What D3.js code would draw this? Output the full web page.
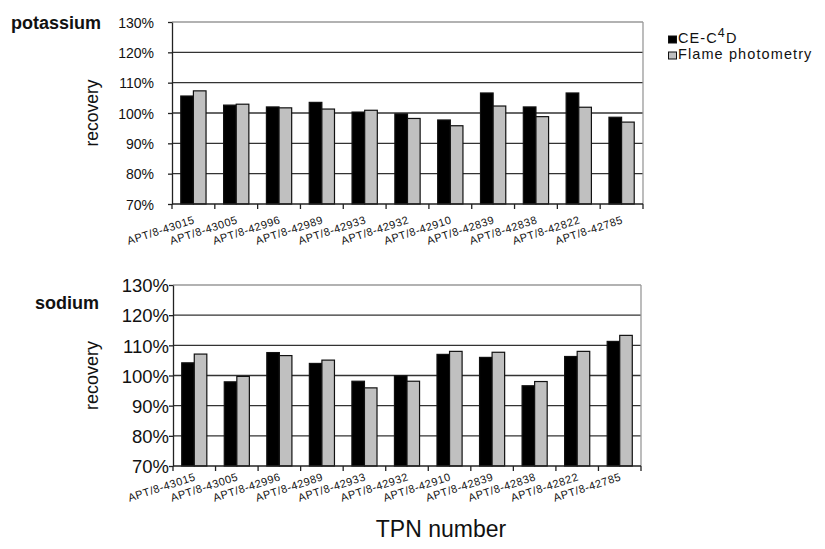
<!DOCTYPE html>
<html>
<head>
<meta charset="utf-8">
<script src="https://cdn.jsdelivr.net/npm/d3@7"></script>
<style>
  html, body { margin: 0; padding: 0; background: #fff; }
  svg { display: block; font-family: Arial, "Liberation Sans", sans-serif; }
</style>
</head>
<body>
<svg id="chart" width="825" height="549"></svg>
<script>
// ---- data ----
const categories = ["APT/8-43015","APT/8-43005","APT/8-42996","APT/8-42989","APT/8-42933","APT/8-42932","APT/8-42910","APT/8-42839","APT/8-42838","APT/8-42822","APT/8-42785"];
const seriesNames = ["CE-C4D", "Flame photometry"];
const potassiumCE    = [105.6, 102.6, 102.0, 103.5, 100.3, 99.7, 97.7, 106.6, 102.0, 106.6, 98.6];
const potassiumFlame = [107.3, 102.9, 101.7, 101.3, 100.9, 98.2, 95.8, 102.3, 98.8, 101.9, 97.0];
const sodiumCE       = [104.2, 97.9, 107.6, 104.0, 98.1, 99.9, 107.0, 106.0, 96.6, 106.3, 111.3];
const sodiumFlame    = [107.1, 99.7, 106.6, 105.1, 95.9, 98.1, 108.0, 107.7, 98.0, 108.0, 113.3];
const yTicks = [70, 80, 90, 100, 110, 120, 130];
const yDomain = [70, 130];
const panelTitles = ["potassium", "sodium"];
const yAxisTitle = "recovery";
const xAxisTitle = "TPN number";

const colors = ["#000000", "#c0c0c0"];
const svg = d3.select("#chart");

function drawPanel(cfg) {
  const { left, right, top, bottom, ce, flame, title, tickFont, titleY, recX, recFont, labelOffset } = cfg;
  const x0 = d3.scaleBand().domain(categories).range([left, right]).paddingInner(0.41).paddingOuter(0.205);
  const x1 = d3.scaleBand().domain(seriesNames).range([0, x0.bandwidth()]);
  const y = d3.scaleLinear().domain(yDomain).range([bottom, top]);
  const g = svg.append("g");

  // gridlines
  g.selectAll("line.grid").data(yTicks.filter(t => t > 70 && t < 130)).join("line")
    .attr("x1", left).attr("x2", right)
    .attr("y1", d => y(d)).attr("y2", d => y(d))
    .attr("stroke", "#333").attr("stroke-width", 1.3);
  // frame top and right
  g.append("line").attr("x1", left).attr("x2", right).attr("y1", y(130)).attr("y2", y(130))
    .attr("stroke", "#999").attr("stroke-width", 1.3);
  g.append("line").attr("x1", right).attr("x2", right).attr("y1", y(130)).attr("y2", y(70))
    .attr("stroke", "#999").attr("stroke-width", 1.3);

  // bars
  const data = categories.map((c, i) => ({ c, vals: [ce[i], flame[i]] }));
  const grp = g.selectAll("g.cat").data(data).join("g").attr("transform", d => `translate(${x0(d.c)},0)`);
  grp.selectAll("rect").data(d => d.vals.map((v, k) => ({ v, k }))).join("rect")
    .attr("x", d => x1(seriesNames[d.k]))
    .attr("width", x1.bandwidth())
    .attr("y", d => y(d.v))
    .attr("height", d => y(70) - y(d.v))
    .attr("fill", d => colors[d.k])
    .attr("stroke", "#111").attr("stroke-width", 1.2);

  // y axis
  const yAxis = d3.axisLeft(y).tickValues(yTicks).tickSize(4).tickSizeOuter(0).tickFormat(d => d + "%");
  const ya = g.append("g").attr("transform", `translate(${left},0)`).call(yAxis);
  ya.select(".domain").attr("stroke", "#222").attr("stroke-width", 1.3);
  ya.selectAll(".tick line").attr("stroke", "#222").attr("stroke-width", 1.3);
  ya.selectAll(".tick text").attr("font-size", tickFont).attr("fill", "#111")
    .attr("font-family", "Arial, 'Liberation Sans', sans-serif").attr("x", -cfg.tickPad).attr("dy", "0.36em");

  // x axis: domain + ticks at category boundaries
  g.append("line").attr("x1", left).attr("x2", right).attr("y1", bottom).attr("y2", bottom)
    .attr("stroke", "#222").attr("stroke-width", 1.3);
  const step = x0.step();
  const bounds = d3.range(categories.length + 1).map(i => left + i * step);
  g.selectAll("line.xt").data(bounds).join("line")
    .attr("x1", d => d).attr("x2", d => d).attr("y1", bottom).attr("y2", bottom + 5)
    .attr("stroke", "#222").attr("stroke-width", 1.3);
  g.selectAll("text.xl").data(categories).join("text")
    .attr("transform", d => `translate(${x0(d) + x0.bandwidth() / 2 + 2},${bottom + labelOffset}) rotate(-18)`)
    .attr("text-anchor", "end")
    .attr("font-size", 11).attr("letter-spacing", 0.5).attr("fill", "#111")
    .text(d => d);

  // panel title
  svg.append("text").attr("x", cfg.titleX).attr("y", titleY).attr("font-size", 18).attr("font-weight", "bold")
    .attr("fill", "#111").text(title);
  // y title
  svg.append("text").attr("transform", `translate(${recX},${(top + bottom) / 2}) rotate(-90)`)
    .attr("text-anchor", "middle").attr("font-size", recFont).attr("fill", "#111").text(yAxisTitle);
}

drawPanel({ left: 172, right: 643, top: 22, bottom: 204, ce: potassiumCE, flame: potassiumFlame,
  title: panelTitles[0], tickFont: 14, tickPad: 18, titleX: 11, titleY: 29, recX: 98, recFont: 17.5, labelOffset: 19 });
drawPanel({ left: 173, right: 641, top: 285, bottom: 466, ce: sodiumCE, flame: sodiumFlame,
  title: panelTitles[1], tickFont: 18.5, tickPad: 4, titleX: 35, titleY: 309, recX: 98, recFont: 18, labelOffset: 14 });

// legend
const leg = svg.append("g");
const legY = [42.5, 58.5];
seriesNames.forEach((s, i) => {
  leg.append("rect").attr("x", 668.5).attr("y", legY[i] - 6.5).attr("width", 8).attr("height", 7)
    .attr("fill", colors[i]).attr("stroke", "#111").attr("stroke-width", 1);
});
const t1 = leg.append("text").attr("x", 678).attr("y", legY[0]).attr("font-size", 14.5).attr("fill", "#111").attr("letter-spacing", 1.1);
t1.append("tspan").text("CE-C");
t1.append("tspan").attr("font-size", 12.5).attr("dy", -6).text("4");
t1.append("tspan").attr("dy", 6).text("D");
leg.append("text").attr("x", 678).attr("y", legY[1]).attr("font-size", 14.5).attr("letter-spacing", 1.1)
  .attr("fill", "#111").text(seriesNames[1]);

// x title
svg.append("text").attr("x", 441).attr("y", 537).attr("text-anchor", "middle")
  .attr("font-size", 23).attr("fill", "#111").text(xAxisTitle);
</script>
</body>
</html>
